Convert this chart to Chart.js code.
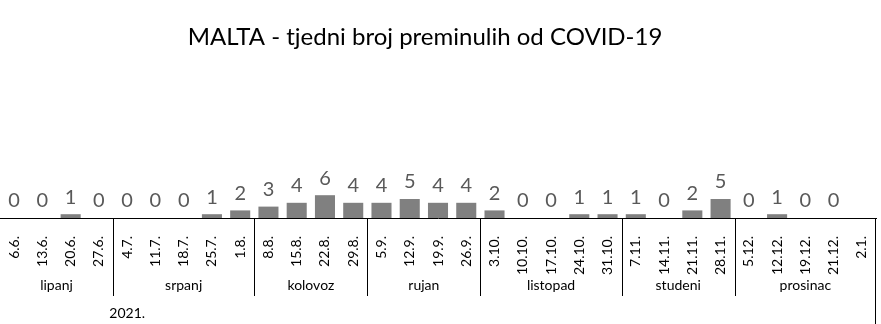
<!DOCTYPE html>
<html>
<head>
<meta charset="utf-8">
<script src="https://cdn.jsdelivr.net/npm/chart.js@4"></script>
<style>
  html, body { margin: 0; padding: 0; background: #fff; }
  #wrap { width: 881px; height: 324px; }
</style>
</head>
<body>
<div id="wrap"><canvas id="chart"></canvas></div>
<script>
// Weekly dates (category labels)
const weeks = ['6.6.', '13.6.', '20.6.', '27.6.', '4.7.', '11.7.', '18.7.', '25.7.', '1.8.',
    '8.8.', '15.8.', '22.8.', '29.8.', '5.9.', '12.9.', '19.9.', '26.9.',
    '3.10.', '10.10.', '17.10.', '24.10.', '31.10.', '7.11.', '14.11.', '21.11.', '28.11.',
    '5.12.', '12.12.', '19.12.', '21.12.', '2.1.'];

// Weekly deaths
const deaths = [0, 0, 1, 0, 0, 0, 0, 1, 2,
    3, 4, 6, 4, 4, 5, 4, 4,
    2, 0, 0, 1, 1, 1, 0, 2, 5,
    0, 1, 0, 0, null];

// Month groups under the dates
const months = ['lipanj', 'srpanj', 'kolovoz', 'rujan', 'listopad', 'studeni', 'prosinac'];
const monthCounts = [4, 5, 4, 4, 5, 4, 5];

// Year group
const years = ['2021.'];
const yearCounts = [9];

const TITLE = 'MALTA - tjedni broj preminulih od COVID-19';
const FONT = 'Lato, "Open Sans", sans-serif';

// Title, drawn slightly left of centre like the original
const titleText = {
    id: 'titleText',
    afterDraw(chart) {
        const ctx = chart.ctx;
        ctx.save();
        ctx.font = '24px ' + FONT;
        ctx.fillStyle = '#000';
        ctx.textAlign = 'center';
        ctx.textBaseline = 'middle';
        ctx.fillText(TITLE, 425, 37);
        ctx.restore();
    }
};

// Draw values above bars
const valueLabels = {
    id: 'valueLabels',
    afterDatasetsDraw(chart) {
        const ctx = chart.ctx;
        const meta = chart.getDatasetMeta(0);
        ctx.save();
        ctx.font = '20px ' + FONT;
        ctx.fillStyle = '#595959';
        ctx.textAlign = 'center';
        ctx.textBaseline = 'bottom';
        meta.data.forEach((bar, i) => {
            const v = deaths[i];
            if (v === null || v === undefined) return;
            ctx.fillText(String(v), bar.x, bar.y - 7);
        });
        ctx.restore();
    }
};

// Draw month and year groups with divider lines
const groupAxis = {
    id: 'groupAxis',
    afterDraw(chart) {
        const ctx = chart.ctx;
        const x = chart.scales.x;
        const area = chart.chartArea;
        const half = (x.getPixelForValue(1) - x.getPixelForValue(0)) / 2;
        ctx.save();
        ctx.strokeStyle = '#000';
        ctx.lineWidth = 1;
        ctx.fillStyle = '#000';
        ctx.font = '14px ' + FONT;
        ctx.textAlign = 'center';
        ctx.textBaseline = 'middle';

        let start = 0;
        monthCounts.forEach((n, k) => {
            const end = start + n - 1;
            const left = x.getPixelForValue(start) - half;
            const right = x.getPixelForValue(end) + half;
            ctx.fillText(months[k], (left + right) / 2, 285);
            if (k < monthCounts.length - 1) {
                const px = Math.round(right) + 0.5;
                ctx.beginPath();
                ctx.moveTo(px, area.bottom);
                ctx.lineTo(px, 296);
                ctx.stroke();
            }
            start += n;
        });

        // right frame line
        const rx = Math.round(area.right) - 0.5;
        ctx.beginPath();
        ctx.moveTo(rx, area.bottom);
        ctx.lineTo(rx, chart.height);
        ctx.stroke();

        start = 0;
        yearCounts.forEach((n, k) => {
            const end = start + n - 1;
            const cx = (x.getPixelForValue(start) + x.getPixelForValue(end)) / 2;
            ctx.fillText(years[k], cx, 313);
            start += n;
        });
        ctx.restore();
    }
};

new Chart(document.getElementById('chart'), {
    type: 'bar',
    data: {
        labels: weeks,
        datasets: [{
            data: deaths,
            backgroundColor: '#808080',
            borderWidth: 0,
            barPercentage: 0.71,
            categoryPercentage: 1
        }]
    },
    options: {
        responsive: true,
        maintainAspectRatio: false,
        animation: false,
        layout: { padding: { left: 0, right: 5, top: 66, bottom: 0 } },
        plugins: {
            legend: { display: false },
            tooltip: { enabled: false },
            title: { display: false }
        },
        scales: {
            x: {
                grid: { display: false },
                border: { display: true, color: '#000', width: 1 },
                ticks: {
                    color: '#000',
                    font: { family: FONT, size: 14 },
                    minRotation: 90,
                    maxRotation: 90,
                    autoSkip: false,
                    padding: 10
                },
                afterFit(scale) {
                    scale.height = 106;
                    scale.paddingLeft = 0;
                    scale.paddingRight = 0;
                }
            },
            y: {
                display: false,
                min: 0,
                max: 40
            }
        }
    },
    plugins: [titleText, valueLabels, groupAxis]
});
</script>
</body>
</html>
